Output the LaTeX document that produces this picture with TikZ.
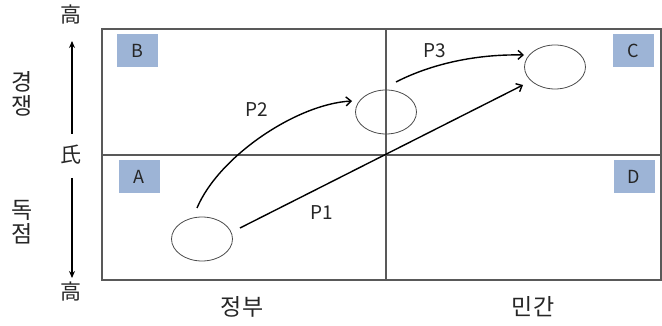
\documentclass[tikz,border=0pt]{standalone}
\usepackage{fontspec}
\setmainfont{Noto Sans CJK KR}
\newfontfamily\kr{Noto Sans CJK KR}
\usetikzlibrary{arrows.meta,shapes.geometric}
\definecolor{lab}{HTML}{9DB4D6}
\begin{document}
\begin{tikzpicture}[x=1pt,y=-1pt,
  frameline/.style={draw=black!65,line width=1.1pt},
  quad/.style={fill=lab,minimum width=41pt,minimum height=33pt,inner sep=0pt,font=\fontsize{18}{18}\selectfont,text=black!85},
  posn/.style={ellipse,draw=black!70,line width=0.8pt,minimum width=61pt,minimum height=44pt,inner sep=0pt},
  patharrow/.style={black,line width=1.4pt,-{Straight Barb[length=5pt,width=9pt]}},
  axisarrow/.style={black,line width=1.4pt,-{Stealth[length=7pt,width=6pt]}},
  ptxt/.style={font=\fontsize{19}{19}\selectfont,text=black!85},
  krtxt/.style={font=\kr\fontsize{23}{23}\selectfont,text=black!85},
  hantxt/.style={font=\kr\fontsize{21}{21}\selectfont,text=black!85}]
\useasboundingbox (0,0) rectangle (662,326);
% frame
\draw[frameline] (102,29) rectangle (661,280);
\draw[frameline] (102,155) -- (661,155);
\draw[frameline] (386,29) -- (386,280);
% quadrant labels
\node[quad] (B) at (137,51) {B};
\node[quad] (A) at (139,177) {A};
\node[quad] (C) at (633,51) {C};
\node[quad] (D) at (634,177) {D};
% positions
\node[posn] (c1) at (202,239) {};
\node[posn] (c2) at (386,112) {};
\node[posn] (c3) at (555,67) {};
% paths
\coordinate (s2) at (197,208);
\coordinate (e2) at (352,101);
\coordinate (s3) at (396,82);
\coordinate (e3) at (524,55);
\coordinate (s1) at (240,228);
\coordinate (e1) at (523,85);
\draw[patharrow] (s2) .. controls +(22,-52) and +(-55,3) .. (e2);
\draw[patharrow] (s3) .. controls +(35,-18) and +(-48,-1) .. (e3);
\draw[patharrow] (s1) -- (e1);
\node[ptxt] (p2) at (257,110) {P2};
\node[ptxt] (p3) at (435,51) {P3};
\node[ptxt] (p1) at (322,213) {P1};
% left axis
\node[hantxt] (hi1) at (71,15) {高};
\node[hantxt] (mid) at (71,155) {氏};
\node[hantxt] (hi2) at (71,292) {高};
\coordinate (u0) at (72,134);
\coordinate (u1) at (72,41);
\coordinate (d0) at (72,178);
\coordinate (d1) at (72,278);
\draw[axisarrow] (u0) -- (u1);
\draw[axisarrow] (d0) -- (d1);
\node[krtxt] (k1) at (22,82) {경};
\node[krtxt] (k2) at (22,106) {쟁};
\node[krtxt] (k3) at (22,210) {독};
\node[krtxt] (k4) at (22,234) {점};
% bottom labels
\node[krtxt] (gov) at (242,307) {정부};
\node[krtxt] (pri) at (533,307) {민간};
\end{tikzpicture}
\end{document}
